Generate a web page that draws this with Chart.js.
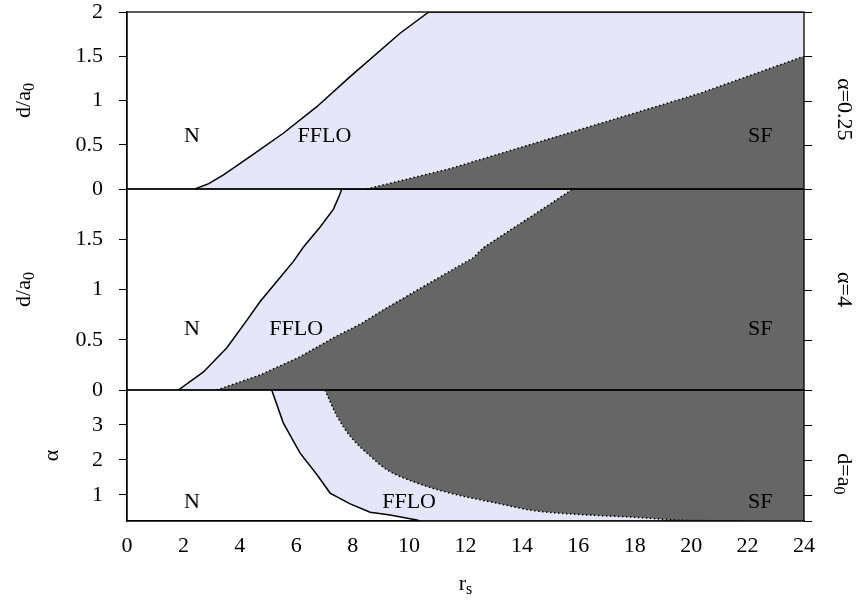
<!DOCTYPE html>
<html lang="en">
<head>
<meta charset="UTF-8">
<title>Phase diagram r_s</title>
<style>
  body { margin: 0; background: #fff; }
  canvas { display: block; }
</style>
</head>
<body>
<canvas id="phaseChart" width="860" height="601"></canvas>
<script src="https://cdn.jsdelivr.net/npm/chart.js"></script>
<script>
// shared x axis (r_s)
const xTicks = [0, 2, 4, 6, 8, 10, 12, 14, 16, 18, 20, 22, 24];

// top panel: alpha = 0.25, y = d/a0
const topTicks = [0, 0.5, 1, 1.5, 2];
const topNR = [2.41, 2.9, 3.42, 4.36, 5.54, 6.73, 7.91, 9.68, 10.7, 24];
const topND = [0, 0.06, 0.16, 0.365, 0.63, 0.93, 1.27, 1.76, 2, 2];
const topSFR = [8.5, 11.45, 14.8, 20.3, 24];
const topSFD = [0, 0.23, 0.55, 1.08, 1.5];

// middle panel: alpha = 4, y = d/a0
const midTicks = [0, 0.5, 1, 1.5];
const midNR = [1.82, 2.71, 3.54, 4.24, 4.72, 5.31, 5.9, 6.25, 6.84, 7.32, 7.55, 7.61, 24];
const midND = [0, 0.18, 0.42, 0.69, 0.88, 1.08, 1.28, 1.42, 1.62, 1.8, 1.95, 2, 2];
const midSFR = [3.18, 4.72, 6.13, 7.32, 8.3, 9.1, 12.28, 12.64, 15.0, 15.8, 24];
const midSFD = [0, 0.15, 0.33, 0.52, 0.66, 0.8, 1.317, 1.417, 1.85, 2, 2];

// bottom panel: d = a0, y = alpha
const botTicks = [1, 2, 3];
const botNR = [5.13, 5.54, 6.13, 6.73, 7.2, 7.91, 8.62, 9.33, 10.27, 10.4, 24];
const botNA = [4, 3.06, 2.2, 1.58, 1.05, 0.74, 0.5, 0.42, 0.28, 0.25, 0.25];
const botSFR = [7.02, 7.44, 7.91, 8.62, 9.21, 10.27, 11.45, 13.23, 14.4, 16.18, 17.95, 19.79, 24];
const botSFA = [4, 3.26, 2.68, 2.11, 1.72, 1.34, 1.05, 0.74, 0.55, 0.43, 0.36, 0.27, 0.25];

// region labels
const regionNames = ['N', 'FFLO', 'SF'];
const topLabelR = [2.3, 7.0, 22.45];
const topLabelY = [0.6, 0.6, 0.6];
const midLabelR = [2.3, 6.0, 22.45];
const midLabelY = [0.6, 0.6, 0.6];
const botLabelR = [2.3, 10.0, 22.45];
const botLabelY = [0.8, 0.8, 0.8];

const LAVENDER = '#E6E6FA';
const GREY = '#666666';
const FONT = "'Liberation Serif', 'DejaVu Serif', serif";

function pts(xs, ys) {
    return xs.map((x, i) => ({ x: x, y: ys[i] }));
}

function boundary(data, axis, dotted, fill, color, order, smooth) {
    return {
        data: data,
        yAxisID: axis,
        borderColor: '#000',
        borderWidth: 1.5,
        borderDash: dotted ? [1.5, 2.5] : [],
        backgroundColor: color,
        fill: fill,
        order: order,
        pointRadius: 0,
        tension: 0,
        cubicInterpolationMode: smooth ? 'monotone' : 'default'
    };
}

function yAxis(min, max, weight, ticks) {
    return {
        type: 'linear',
        position: 'left',
        stack: 'panels',
        stackWeight: weight,
        min: min,
        max: max,
        afterBuildTicks: s => { s.ticks = ticks.map(v => ({ value: v })); },
        afterFit: s => {
            s.width = 127;
            s.paddingTop = 0;
            s.paddingBottom = 0;
        },
        grid: { drawOnChartArea: false, drawTicks: true, tickLength: 8, color: '#000', tickWidth: 1 },
        border: { display: true, color: '#000', width: 1.3 },
        ticks: {
            padding: 16,
            color: '#000',
            font: { family: FONT, size: 22, lineHeight: 1 },
            callback: v => String(v)
        }
    };
}

// draw text with an optional subscript; (x, y) is the centre of the baseline
function subText(ctx, main, sub, x, y, angle) {
    const mainFont = '22px ' + FONT;
    const subFont = '16px ' + FONT;
    ctx.save();
    ctx.translate(x, y);
    ctx.rotate(angle);
    ctx.font = mainFont;
    const w1 = ctx.measureText(main).width;
    ctx.font = subFont;
    const w2 = sub ? ctx.measureText(sub).width : 0;
    const start = -(w1 + w2) / 2;
    ctx.fillStyle = '#000';
    ctx.textAlign = 'left';
    ctx.textBaseline = 'alphabetic';
    ctx.font = mainFont;
    ctx.fillText(main, start, 0);
    if (sub) {
        ctx.font = subFont;
        ctx.fillText(sub, start + w1, 4);
    }
    ctx.restore();
}

const panelPlugin = {
    id: 'panels',
    afterDatasetsDraw(chart) {
        const { ctx, chartArea } = chart;
        const panels = ['yTop', 'yMid', 'yBot'];
        ctx.save();
        ctx.strokeStyle = '#000';
        panels.forEach(id => {
            const s = chart.scales[id];
            ctx.lineWidth = 1.3;
            ctx.strokeRect(chartArea.left, s.top, chartArea.right - chartArea.left, s.bottom - s.top);
            ctx.lineWidth = 1;
            const vals = s.ticks.map(t => t.value).concat([s.min, s.max]);
            vals.forEach(v => {
                const y = Math.round(s.getPixelForValue(v)) + 0.5;
                ctx.beginPath();
                ctx.moveTo(chartArea.right, y);
                ctx.lineTo(chartArea.right + 8, y);
                ctx.stroke();
            });
        });

        // region names
        const x = chart.scales.x;
        const sets = [['yTop', topLabelR, topLabelY], ['yMid', midLabelR, midLabelY], ['yBot', botLabelR, botLabelY]];
        ctx.fillStyle = '#000';
        ctx.font = '22px ' + FONT;
        ctx.textAlign = 'center';
        ctx.textBaseline = 'middle';
        sets.forEach(([id, rs, ys]) => {
            const s = chart.scales[id];
            regionNames.forEach((name, i) => {
                ctx.fillText(name, x.getPixelForValue(rs[i]), s.getPixelForValue(ys[i]));
            });
        });
        ctx.restore();

        // axis titles
        const top = chart.scales.yTop, mid = chart.scales.yMid, bot = chart.scales.yBot;
        const cTop = (top.top + top.bottom) / 2;
        const cMid = (mid.top + mid.bottom) / 2;
        const cBot = (bot.top + bot.bottom) / 2;
        subText(ctx, 'd/a', '0', chartArea.left - 97, cTop, -Math.PI / 2);
        subText(ctx, 'd/a', '0', chartArea.left - 97, cMid, -Math.PI / 2);
        subText(ctx, 'α', '', chartArea.left - 69, cBot, -Math.PI / 2);
        subText(ctx, 'α=0.25', '', chartArea.right + 34, top.getPixelForValue(0.9), Math.PI / 2);
        subText(ctx, 'α=4', '', chartArea.right + 34, mid.getPixelForValue(1), Math.PI / 2);
        subText(ctx, 'd=a', '0', chartArea.right + 34, bot.getPixelForValue(1.6), Math.PI / 2);
        subText(ctx, 'r', 's', (chartArea.left + chartArea.right) / 2, 590, 0);
    }
};

const ctx = document.getElementById('phaseChart').getContext('2d');
new Chart(ctx, {
    type: 'line',
    data: {
        datasets: [
            boundary(pts(topSFR, topSFD), 'yTop', true, 'start', GREY, 0, false),
            boundary(pts(topNR, topND), 'yTop', false, 'start', LAVENDER, 1, false),
            boundary(pts(midSFR, midSFD), 'yMid', true, 'start', GREY, 0, false),
            boundary(pts(midNR, midND), 'yMid', false, 'start', LAVENDER, 1, false),
            boundary(pts(botSFR, botSFA), 'yBot', true, 'end', GREY, 0, true),
            boundary(pts(botNR, botNA), 'yBot', false, 'end', LAVENDER, 1, false)
        ]
    },
    options: {
        responsive: false,
        animation: false,
        layout: { padding: { top: 12, right: 56, bottom: 0, left: 0 } },
        plugins: { legend: { display: false }, tooltip: { enabled: false } },
        scales: {
            x: {
                type: 'linear',
                min: 0,
                max: 24,
                afterBuildTicks: s => { s.ticks = xTicks.map(v => ({ value: v })); },
                afterFit: s => { s.height = 80; },
                grid: { drawOnChartArea: false, drawTicks: false },
                border: { display: true, color: '#000', width: 1.3 },
                ticks: {
                    padding: 12,
                    color: '#000',
                    maxRotation: 0,
                    autoSkip: false,
                    font: { family: FONT, size: 22 }
                }
            },
            yBot: yAxis(0.25, 4, 131, botTicks),
            yMid: yAxis(0, 2, 201, midTicks),
            yTop: yAxis(0, 2, 177, topTicks)
        }
    },
    plugins: [panelPlugin]
});
</script>
</body>
</html>
